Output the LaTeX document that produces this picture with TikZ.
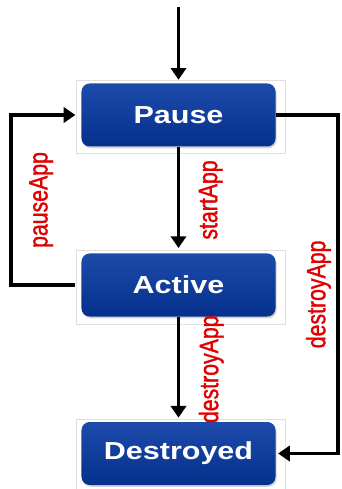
\documentclass[tikz,border=0pt]{standalone}
\usepackage{fontspec}
\setmainfont{Liberation Sans}
\newfontfamily\statefont[FakeStretch=1.24]{Liberation Sans}
\newfontfamily\callfont[FakeStretch=0.8,FakeBold=1.2]{Liberation Sans}
\usetikzlibrary{arrows.meta,shadows}

\definecolor{boxtop}{HTML}{1D4BAA}
\definecolor{boxmid}{HTML}{0A3897}
\definecolor{boxbot}{HTML}{05308C}
\definecolor{callred}{HTML}{E00000}

\begin{document}
\begin{tikzpicture}[x=0.03cm,y=-0.03cm,
  state/.style={rounded corners=7pt,minimum width=5.82cm,minimum height=1.89cm,
    top color=boxtop,middle color=boxmid,bottom color=boxbot,text=white,
    font=\statefont\bfseries\fontsize{21}{25}\selectfont,
    drop shadow={opacity=0.35,shadow xshift=1pt,shadow yshift=-1.5pt}},
  frame/.style={gray!25,line width=0.4pt},
  flow/.style={line width=3.2pt,-{Triangle[length=10pt,width=13pt]}},
  call/.style={rotate=90,inner sep=0pt,text=callred,
    font=\callfont\fontsize{22.7}{26}\selectfont}]
\useasboundingbox (0,0) rectangle (341,489);

\node[state] (pause) at (178.5,115) {Pause};
\node[state] (active) at (178.5,285) {Active};
\node[state] (destroyed) at (178.5,453.5) {Destroyed};
\foreach \n in {pause,active,destroyed}
  \draw[frame] ([shift={(-5,-3)}]\n.north west) rectangle ([shift={(9,7)}]\n.south east);

\coordinate (entry) at (178.5,7);
\draw[flow,shorten >=3pt] (entry) -- (pause);
\draw[flow,shorten >=4.5pt] (pause) -- node[xshift=15.8pt,call,anchor=north] {startApp} (active);
\draw[flow,shorten >=3.5pt] (active) -- node[xshift=15.8pt,call,anchor=north] {destroyApp} (destroyed);

% pauseApp loops back on the left
\draw[flow,shorten <=5pt,shorten >=5pt] (active.west) -- ++(-70,0)
  |- node[pos=0.25,xshift=13.7pt,call,anchor=north] {pauseApp} (pause.west);
% destroyApp straight from Pause on the right
\draw[flow,shorten >=2pt] (pause.east) -- ++(62,0)
  |- node[pos=0.265,xshift=-4.3pt,call,anchor=south] {destroyApp} (destroyed.east);
\end{tikzpicture}
\end{document}
